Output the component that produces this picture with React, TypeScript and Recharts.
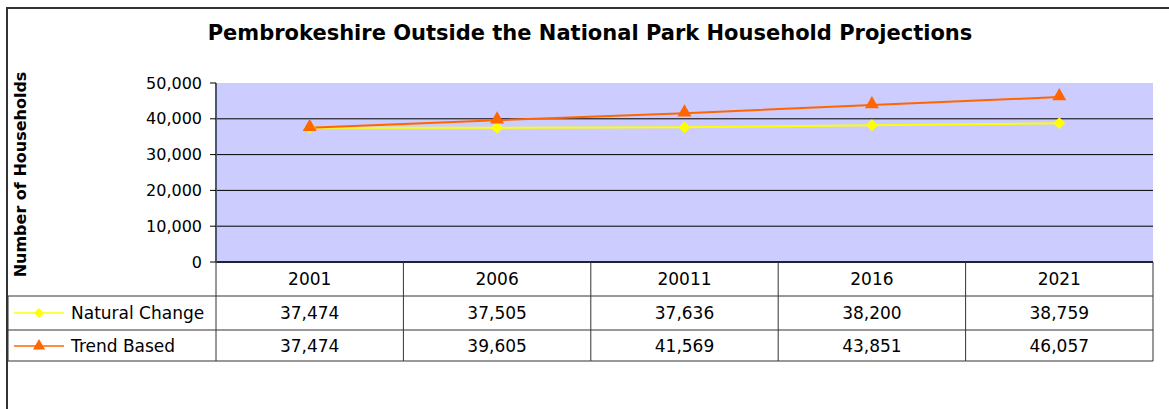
import { LineChart, Line, XAxis, YAxis, CartesianGrid } from 'recharts';

const categories = ['2001', '2006', '20011', '2016', '2021'];
const naturalChange = [37474, 37505, 37636, 38200, 38759];
const trendBased = [37474, 39605, 41569, 43851, 46057];
const yTicks = [0, 10000, 20000, 30000, 40000, 50000];
const gridValues = [10000, 20000, 30000, 40000];

const seriesNames = ['Natural Change', 'Trend Based'];
const seriesColors = ['#FFFF00', '#FF6600'];

const data = categories.map((c, i) => ({
  year: c,
  natural: naturalChange[i],
  trend: trendBased[i],
}));

const W = 1169;
const H = 409;
const PLOT_LEFT = 216;
const PLOT_RIGHT_MARGIN = 16;
const PLOT_W = W - PLOT_LEFT - PLOT_RIGHT_MARGIN;
const HALF = PLOT_W / categories.length / 2;
const ROWS = [34, 68, 99];
const FONT = '"DejaVu Sans", Arial, sans-serif';
const TABLE_FS = 17;
const fmt = (v: number) => v.toLocaleString('en-US');

const Diamond = ({ cx, cy, color, r = 5 }: any) => (
  <polygon
    points={`${cx},${cy - r} ${cx + r},${cy} ${cx},${cy + r} ${cx - r},${cy}`}
    fill={color}
  />
);

const Triangle = ({ cx, cy, color, r = 6 }: any) => (
  <polygon
    points={`${cx},${cy - r} ${cx + r},${cy + r * 0.75} ${cx - r},${cy + r * 0.75}`}
    fill={color}
  />
);

// x axis tick draws the data table under the plot
const TableTick = (props: any) => {
  const { x, y, payload, index } = props;
  const i = index;
  const vals = [naturalChange[i], trendBased[i]];
  const lineColor = '#333';
  return (
    <g>
      {i === 0 && (
        <g>
          <line x1={x - HALF} y1={y} x2={x - HALF} y2={y + ROWS[2]} stroke={lineColor} />
          <line x1={8} y1={y + ROWS[0]} x2={x - HALF} y2={y + ROWS[0]} stroke={lineColor} />
          <line x1={8} y1={y + ROWS[1]} x2={x - HALF} y2={y + ROWS[1]} stroke={lineColor} />
          <line x1={8} y1={y + ROWS[2]} x2={x - HALF} y2={y + ROWS[2]} stroke={lineColor} />
          <line x1={8} y1={y + ROWS[0]} x2={8} y2={y + ROWS[2]} stroke={lineColor} />
          {seriesNames.map((name, s) => {
            const cy = y + (s === 0 ? 51 : 84);
            return (
              <g key={name}>
                <line x1={14} y1={cy} x2={64} y2={cy} stroke={seriesColors[s]} strokeWidth={1.5} />
                {s === 0 ? (
                  <Diamond cx={39} cy={cy} color={seriesColors[s]} />
                ) : (
                  <Triangle cx={39} cy={cy - 1} color={seriesColors[s]} />
                )}
                <text x={71} y={cy} dy="0.35em" fontSize={TABLE_FS} fontFamily={FONT} fill="#000">
                  {name}
                </text>
              </g>
            );
          })}
        </g>
      )}
      <line x1={x + HALF} y1={y} x2={x + HALF} y2={y + ROWS[2]} stroke={lineColor} />
      <line x1={x - HALF} y1={y + ROWS[0]} x2={x + HALF} y2={y + ROWS[0]} stroke={lineColor} />
      <line x1={x - HALF} y1={y + ROWS[1]} x2={x + HALF} y2={y + ROWS[1]} stroke={lineColor} />
      <line x1={x - HALF} y1={y + ROWS[2]} x2={x + HALF} y2={y + ROWS[2]} stroke={lineColor} />
      <text x={x} y={y + 17} dy="0.35em" textAnchor="middle" fontSize={TABLE_FS} fontFamily={FONT} fill="#000">
        {payload.value}
      </text>
      {vals.map((v, s) => (
        <text
          key={s}
          x={x}
          y={y + (s === 0 ? 51 : 84)}
          dy="0.35em"
          textAnchor="middle"
          fontSize={TABLE_FS}
          fontFamily={FONT}
          fill="#000"
        >
          {fmt(v)}
        </text>
      ))}
    </g>
  );
};

const YLabel = ({ viewBox }: any) => {
  const cx = 20;
  const cy = viewBox.y + viewBox.height / 2 + 2;
  return (
    <text
      x={cx}
      y={cy}
      transform={`rotate(-90, ${cx}, ${cy})`}
      textAnchor="middle"
      dominantBaseline="central"
      fontSize={16}
      fontWeight="bold"
      fontFamily={FONT}
      fill="#000"
    >
      Number of Households
    </text>
  );
};

export default function App() {
  return (
    <div style={{ position: 'absolute', left: 0, top: 0, width: W, height: H, overflow: 'hidden', background: '#fff' }}>
      <div
        style={{
          position: 'absolute',
          left: 6,
          top: 7,
          width: W + 50,
          height: H + 50,
          border: '2px solid #333',
        }}
      />
      <div
        style={{
          position: 'absolute',
          left: 0,
          top: 21,
          width: 1180,
          textAlign: 'center',
          fontFamily: FONT,
          fontWeight: 'bold',
          fontSize: 21,
          color: '#000',
        }}
      >
        Pembrokeshire Outside the National Park Household Projections
      </div>
      <div style={{ position: 'absolute', left: 0, top: 0 }}>
        <LineChart
          width={W}
          height={H}
          data={data}
          margin={{ top: 83, right: PLOT_RIGHT_MARGIN, left: 0, bottom: H - 262 - 99 }}
        >
          <CartesianGrid
            vertical={false}
            horizontalValues={gridValues}
            stroke="#000"
            fill="#CCCCFF"
            fillOpacity={1}
          />
          <XAxis
            dataKey="year"
            height={99}
            padding={{ left: HALF, right: HALF }}
            interval={0}
            tickLine={false}
            tickSize={0}
            tickMargin={0}
            axisLine={{ stroke: '#223', strokeWidth: 2 }}
            tick={<TableTick />}
          />
          <XAxis
            xAxisId="top"
            dataKey="year"
            orientation="top"
            height={0}
            tick={false}
            tickLine={false}
            axisLine={{ stroke: '#A8CCF4', strokeWidth: 2 }}
          />
          <YAxis
            width={PLOT_LEFT}
            domain={[0, 50000]}
            ticks={yTicks}
            tickFormatter={fmt}
            tickSize={6}
            tickMargin={8}
            tickLine={{ stroke: '#000' }}
            axisLine={{ stroke: '#4A5870', strokeWidth: 2 }}
            tick={{ fill: '#000', fontSize: 16, fontFamily: FONT }}
            label={<YLabel />}
          />
          <YAxis
            yAxisId="right"
            orientation="right"
            width={0}
            domain={[0, 50000]}
            tick={false}
            tickLine={false}
            axisLine={{ stroke: '#A8CCF4', strokeWidth: 2 }}
          />
          <Line
            dataKey="natural"
            name={seriesNames[0]}
            stroke={seriesColors[0]}
            strokeWidth={2}
            isAnimationActive={false}
            dot={(p: any) => <Diamond key={p.index} cx={p.cx} cy={p.cy} color={seriesColors[0]} r={6} />}
          />
          <Line
            dataKey="trend"
            name={seriesNames[1]}
            stroke={seriesColors[1]}
            strokeWidth={2}
            isAnimationActive={false}
            dot={(p: any) => <Triangle key={p.index} cx={p.cx} cy={p.cy - 2} color={seriesColors[1]} r={7} />}
          />
        </LineChart>
      </div>
    </div>
  );
}
